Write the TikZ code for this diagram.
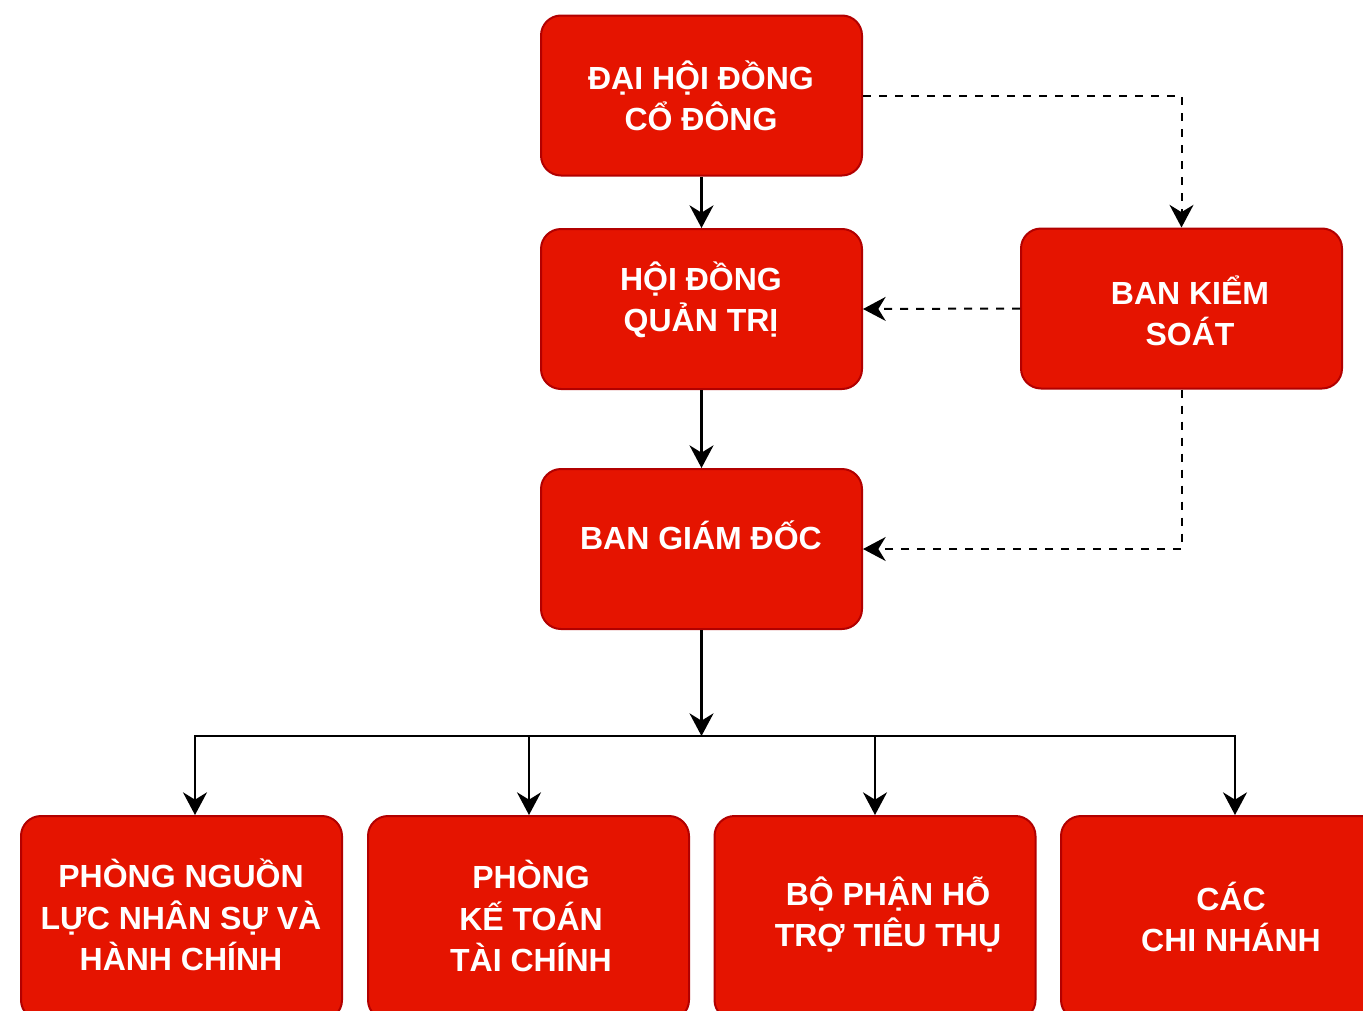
\documentclass[tikz,border=0pt]{standalone}
\usepackage{fontspec}
\setmainfont{Liberation Sans}
\usetikzlibrary{arrows.meta}
\definecolor{boxfill}{HTML}{E51400}
\definecolor{boxline}{HTML}{B20000}
\begin{document}
\begin{tikzpicture}[x=0.75pt,y=-0.75pt,
  box/.style={draw=boxline, fill=boxfill, line width=1.5pt, rounded corners=15pt,
    minimum width=240.75pt, minimum height=120pt, inner sep=0pt},
  tallbox/.style={box, minimum height=153pt},
  txt/.style={text=white, font=\fontsize{24}{31}\selectfont\bfseries, align=center, inner sep=0pt},
  arr/.style={line width=1.7pt, -{Stealth[length=17pt,width=18pt,inset=5.5pt]}},
  darr/.style={line width=1.5pt, dash pattern=on 6pt off 6pt, -{Stealth[length=17pt,width=18pt,inset=5.5pt]}}]
\useasboundingbox (0,0) rectangle (1363,1010);
\clip (0,0) rectangle (1363,1010);
\fill[white] (0,0) rectangle (1363,1010);
% boxes
\node[box] (dh) at (701.5,95.5) {};
\node[box] (hd) at (701.5,309) {};
\node[box] (bks) at (1181.5,308.5) {};
\node[box] (bgd) at (701.5,549) {};
\node[tallbox] (p1) at (181.5,918) {};
\node[tallbox] (p2) at (528.5,918) {};
\node[tallbox] (p3) at (875,918) {};
\node[tallbox] (p4) at (1221.5,918) {};
% texts
\node[txt] (dhT) at (701,95.5) {ĐẠI HỘI ĐỒNG\\CỔ ĐÔNG};
\node[txt] (hdT) at (701,300) {HỘI ĐỒNG\\QUẢN TRỊ};
\node[txt] (bksT) at (1190,310.5) {BAN KIỂM\\SOÁT};
\node[txt] (bgdT) at (701,535.5) {BAN GIÁM ĐỐC};
\node[txt] (p1T) at (181,915) {PHÒNG NGUỒN\\LỰC NHÂN SỰ VÀ\\HÀNH CHÍNH};
\node[txt] (p2T) at (531,916) {PHÒNG\\KẾ TOÁN\\TÀI CHÍNH};
\node[txt] (p3T) at (888,914.5) {BỘ PHẬN HỖ\\TRỢ TIÊU THỤ};
\node[txt] (p4T) at (1231,917) {CÁC\\CHI NHÁNH};
% coordinates
\coordinate (bar) at (701.5,736);
\coordinate (a1) at (195,736);
\coordinate (a2) at (529,736);
\coordinate (a3) at (875,736);
\coordinate (a4) at (1235,736);
% connectors
\draw[arr] (dh.south) -- (hd.north);
\draw[arr] (hd.south) -- (bgd.north);
\draw[arr] (bgd.south) -- (bar);
\draw[arr] (bar) -| (p1.north -| a1);
\draw[arr] (bar) -| (p2.north -| a2);
\draw[arr] (bar) -| (p3.north -| a3);
\draw[arr] (bar) -| (p4.north -| a4);
\draw[darr] (dh.east) -| (bks.north);
\draw[darr] (bks.west) -- (hd.east);
\draw[darr] (bks.south) |- (bgd.east);
\end{tikzpicture}
\end{document}
